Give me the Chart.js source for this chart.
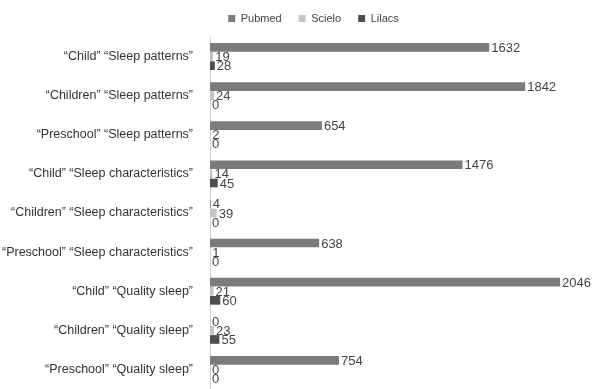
<!DOCTYPE html>
<html>
<head>
<meta charset="utf-8">
<script src="https://cdn.jsdelivr.net/npm/chart.js@4/dist/chart.umd.min.js"></script>
<style>
  html, body { margin: 0; padding: 0; background: #fff; }
  #wrap { width: 595px; height: 389px; }
</style>
</head>
<body>
<div id="wrap"><canvas id="searchChart"></canvas></div>
<script>
// termos de busca x bases
let searchTerms = [
	'\u201CChild\u201D \u201CSleep patterns\u201D',
	'\u201CChildren\u201D \u201CSleep patterns\u201D',
	'\u201CPreschool\u201D \u201CSleep patterns\u201D',
	'\u201CChild\u201D \u201CSleep characteristics\u201D',
	'\u201CChildren\u201D \u201CSleep characteristics\u201D',
	'\u201CPreschool\u201D \u201CSleep characteristics\u201D',
	'\u201CChild\u201D \u201CQuality sleep\u201D',
	'\u201CChildren\u201D \u201CQuality sleep\u201D',
	'\u201CPreschool\u201D \u201CQuality sleep\u201D'
];
let pubmed = [1632, 1842, 654, 1476, 4, 638, 2046, 0, 754];
let scielo = [19, 24, 2, 14, 39, 1, 21, 23, 0];
let lilacs = [28, 0, 0, 45, 0, 0, 60, 55, 0];

let ctx = document.getElementById('searchChart').getContext('2d');
let fontFam = '"Liberation Sans", Arial, sans-serif';

// numeros na ponta das barras
const barValues = {
	id: 'barValues',
	afterDatasetsDraw(chart) {
		let c = chart.ctx;
		c.save();
		c.font = '13px ' + fontFam;
		c.fillStyle = '#444';
		c.textBaseline = 'middle';
		c.textAlign = 'left';
		chart.data.datasets.forEach((ds, i) => {
			chart.getDatasetMeta(i).data.forEach((bar, j) => {
				c.fillText(String(ds.data[j]), bar.x + 2, bar.y + 1);
			});
		});
		c.restore();
	}
};

// legenda um pouco deslocada, como no original
const legendShift = {
	id: 'legendShift',
	afterLayout(chart) {
		chart.legend.left += 22;
		chart.legend.right += 22;
		chart.legend.top -= 3;
		chart.legend.bottom -= 3;
	}
};

let chart = new Chart(ctx, {
	type: 'bar',
	data: {
		labels: searchTerms,
		datasets: [
			{ label: 'Pubmed', data: pubmed, backgroundColor: '#7b7b7b' },
			{ label: 'Scielo', data: scielo, backgroundColor: '#c4c4c4' },
			{ label: 'Lilacs', data: lilacs, backgroundColor: '#4d4d4d' }
		]
	},
	options: {
		indexAxis: 'y',
		responsive: true,
		maintainAspectRatio: false,
		animation: false,
		categoryPercentage: 0.7,
		barPercentage: 0.95,
		layout: { padding: { left: 0, right: 12, top: -1, bottom: 0 } },
		plugins: {
			legend: {
				display: true,
				position: 'top',
				labels: {
					boxWidth: 7,
					boxHeight: 7,
					padding: 17,
					color: '#444',
					font: { size: 11, family: fontFam }
				}
			},
			tooltip: { enabled: false }
		},
		scales: {
			x: {
				display: false,
				min: 0,
				max: 2180
			},
			y: {
				afterFit(scale) {
					scale.width = 210;
					scale.paddingTop = 0;
					scale.paddingBottom = 0;
				},
				grid: { display: false, drawTicks: true, tickLength: 17 },
				border: { display: true, color: '#cfcfcf', width: 1 },
				ticks: {
					color: '#333',
					padding: 0,
					font: { size: 12.5, family: fontFam }
				}
			}
		}
	},
	plugins: [barValues, legendShift]
});
</script>
</body>
</html>
